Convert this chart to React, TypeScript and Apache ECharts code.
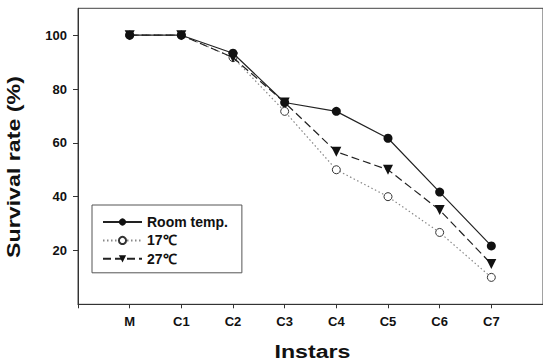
import React, { useEffect, useRef } from "react";
import * as echarts from "echarts";

const categories = ["M", "C1", "C2", "C3", "C4", "C5", "C6", "C7"];
const roomTemp = [100, 100, 93.3, 75, 71.7, 61.7, 41.7, 21.7];
const temp17 = [100, 100, 91.7, 71.7, 50, 40, 26.7, 10];
const temp27 = [100, 100, 91.7, 75, 56.7, 50, 35, 15];
const yTicks = [20, 40, 60, 80, 100];
const seriesNames = ["Room temp.", "17℃", "27℃"];

const FONT = "'Liberation Sans', Arial, sans-serif";

export default function App() {
  const ref = useRef<HTMLDivElement>(null);
  useEffect(() => {
    if (!ref.current) return;
    const chart = echarts.init(ref.current, null, { renderer: "svg" });
    const toPairs = (arr: number[]) => arr.map((v, i) => [i, v]);
    const xTickVals = [-1, ...categories.map((_, i) => i)];
    chart.setOption({
      animation: false,
      backgroundColor: "#fff",
      grid: {
        left: 78,
        top: 8.3,
        width: 468,
        height: 296,
        show: true,
        borderColor: "#444",
        borderWidth: 1,
      },
      xAxis: {
        type: "value",
        min: -1,
        max: 8,
        interval: 1,
        splitLine: { show: false },
        axisLine: { onZero: false, lineStyle: { color: "#333", width: 1 } },
        axisTick: { length: 4, customValues: xTickVals, lineStyle: { color: "#333" } },
        axisLabel: {
          customValues: categories.map((_, i) => i),
          formatter: (v: number) => categories[v] ?? "",
          margin: 11,
          fontFamily: FONT,
          fontWeight: "bold",
          fontSize: 13,
          color: "#111",
        },
      },
      yAxis: {
        type: "value",
        min: 0,
        max: 110,
        interval: 20,
        splitLine: { show: false },
        axisLine: { show: true, onZero: false, lineStyle: { color: "#333", width: 1 } },
        axisTick: { show: true, length: 5, customValues: yTicks, lineStyle: { color: "#333" } },
        axisLabel: {
          customValues: yTicks,
          margin: 11,
          fontFamily: FONT,
          fontWeight: "bold",
          fontSize: 13,
          color: "#111",
        },
      },
      legend: {
        orient: "vertical",
        left: 92,
        top: 205,
        padding: [10, 14, 7, 10],
        itemGap: 4.4,
        itemWidth: 39,
        itemHeight: 9,
        borderColor: "#555",
        borderWidth: 1,
        data: seriesNames,
        textStyle: {
          fontFamily: FONT,
          fontWeight: "bold",
          fontSize: 14,
          lineHeight: 14,
          color: "#111",
        },
      },
      graphic: [
        {
          type: "text",
          x: 13.6,
          y: 167,
          rotation: Math.PI / 2,
          scaleX: 1.29,
          style: {
            text: "Survival rate (%)",
            fontFamily: FONT,
            fontWeight: "bold",
            fontSize: 18,
            fill: "#111",
            align: "center",
            verticalAlign: "middle",
          },
        },
        {
          type: "text",
          x: 312.5,
          y: 351.5,
          scaleX: 1.22,
          style: {
            text: "Instars",
            fontFamily: FONT,
            fontWeight: "bold",
            fontSize: 19,
            fill: "#111",
            align: "center",
            verticalAlign: "middle",
          },
        },
      ],
      series: [
        {
          name: seriesNames[0],
          type: "line",
          z: 4,
          data: toPairs(roomTemp),
          symbol: "circle",
          symbolSize: 9,
          itemStyle: { color: "#111" },
          lineStyle: { color: "#222", width: 1.2, type: "solid" },
        },
        {
          name: seriesNames[1],
          type: "line",
          z: 2,
          data: toPairs(temp17),
          symbol: "circle",
          symbolSize: 8,
          itemStyle: { color: "#fff", borderColor: "#333", borderWidth: 1 },
          lineStyle: { color: "#888", width: 1.2, type: [1.5, 2.5] },
        },
        {
          name: seriesNames[2],
          type: "line",
          z: 3,
          data: toPairs(temp27),
          symbol: "triangle",
          symbolRotate: 180,
          symbolSize: 10,
          itemStyle: { color: "#111" },
          lineStyle: { color: "#222", width: 1.2, type: [8, 4] },
        },
      ],
    });
    return () => chart.dispose();
  }, []);
  return <div ref={ref} style={{ width: 543, height: 361, position: "absolute", left: 0, top: 0 }} />;
}
